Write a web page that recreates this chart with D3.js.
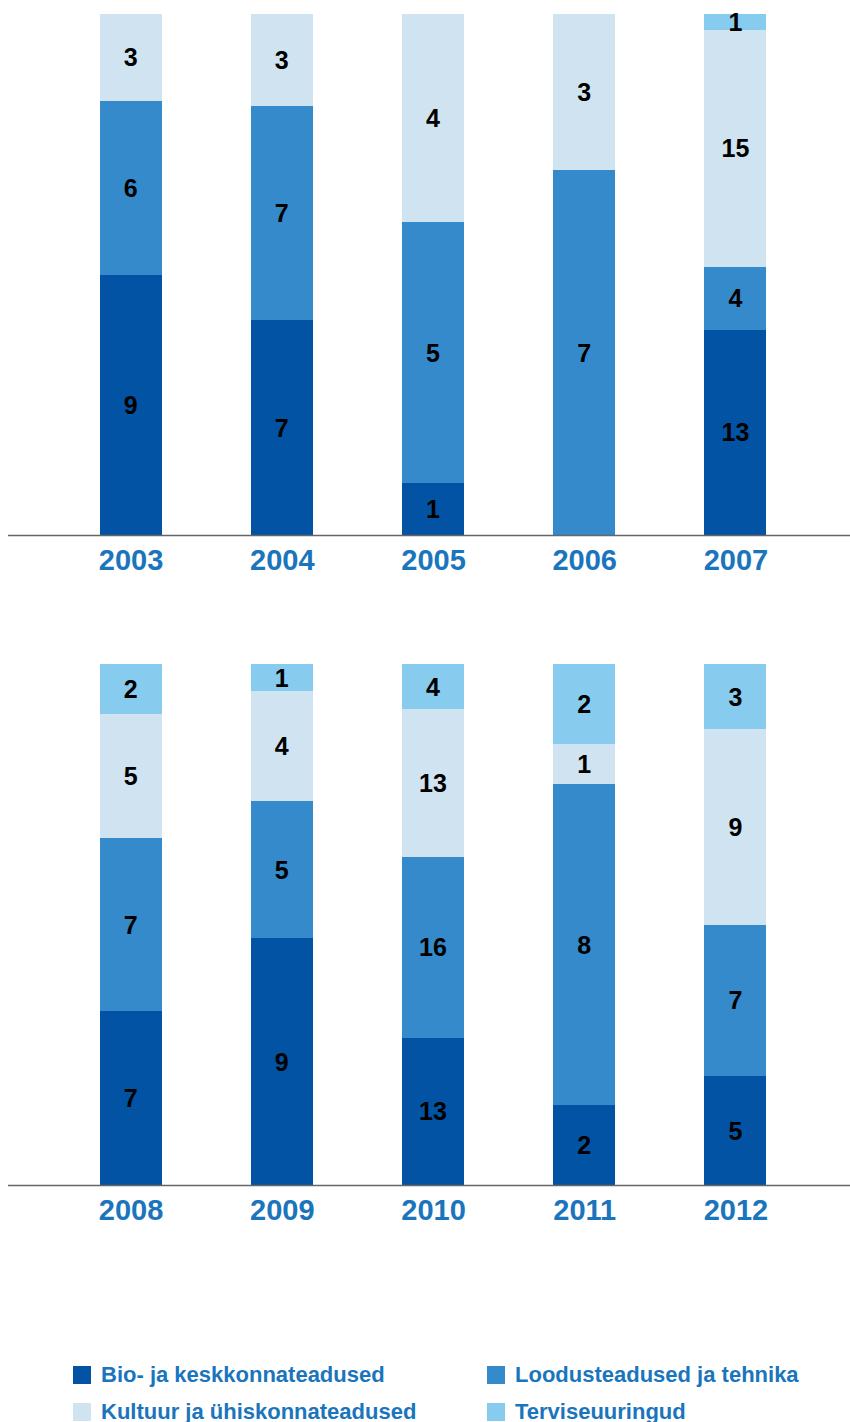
<!DOCTYPE html>
<html lang="et">
	<head>
		<meta charset="utf-8">
		<title>Stacked bars</title>
		<script src="https://d3js.org/d3.v7.min.js"></script>
		<style>
			body { margin: 0; background: #fff; }
			text { font-family: "Liberation Sans", Arial, Helvetica, sans-serif; font-weight: bold; }
		</style>
	</head>
	<body>
		<div id="chart"></div>
		<script type="text/javascript">
		var w = 850
		var h = 1422

		// data
		var keys = ['bio', 'loodus', 'kultuur', 'tervis']
		var legendLabels = ['Bio- ja keskkonnateadused', 'Loodusteadused ja tehnika', 'Kultuur ja ühiskonnateadused', 'Terviseuuringud']
		var colorList = ['#0353a4', '#348acb', '#d0e3f1', '#87cbee']

		var years1 = ['2003', '2004', '2005', '2006', '2007']
		var bio1 = [9, 7, 1, 0, 13]
		var loodus1 = [6, 7, 5, 7, 4]
		var kultuur1 = [3, 3, 4, 3, 15]
		var tervis1 = [0, 0, 0, 0, 1]

		var years2 = ['2008', '2009', '2010', '2011', '2012']
		var bio2 = [7, 9, 13, 2, 5]
		var loodus2 = [7, 5, 16, 8, 7]
		var kultuur2 = [5, 4, 13, 1, 9]
		var tervis2 = [2, 1, 4, 2, 3]

		function buildRows(years, a, b, c, d) {
			return years.map((y, i) => ({year: y, bio: a[i], loodus: b[i], kultuur: c[i], tervis: d[i]}))
		}

		var panels = [
			{rows: buildRows(years1, bio1, loodus1, kultuur1, tervis1), top: 14, base: 535},
			{rows: buildRows(years2, bio2, loodus2, kultuur2, tervis2), top: 664, base: 1185}
		]

		var svg = d3.select('#chart').append('svg').attr('width', w).attr('height', h)

		var stack = d3.stack().keys(keys).offset(d3.stackOffsetExpand)
		var barWidth = 62

		panels.forEach(function(p) {
			var xScale = d3.scalePoint().domain(p.rows.map(d => d.year)).range([55, 811]).padding(0.5)
			var yScale = d3.scaleLinear().domain([0, 1]).range([p.base, p.top])
			var series = stack(p.rows)

			var g = svg.append('g')

			var groups = g.selectAll('.group').data(series).enter()
				.append('g').attr('class', 'group')
				.attr('fill', (d, i) => colorList[i])

			groups.selectAll('rect').data(d => d).enter()
				.append('rect')
				.attr('shape-rendering', 'crispEdges')
				.attr('x', d => xScale(d.data.year) - barWidth / 2)
				.attr('y', d => yScale(d[1]))
				.attr('width', barWidth)
				.attr('height', d => yScale(d[0]) - yScale(d[1]))

			// value labels, only for non-empty segments
			series.forEach(function(s) {
				g.selectAll(null).data(s.filter(d => d.data[s.key] > 0)).enter()
					.append('text')
					.attr('x', d => xScale(d.data.year))
					.attr('y', d => (yScale(d[0]) + yScale(d[1])) / 2)
					.attr('dy', '0.36em')
					.attr('text-anchor', 'middle')
					.attr('font-size', 25)
					.attr('fill', '#000')
					.text(d => d.data[s.key])
			})

			// baseline + year labels
			var xAxis = d3.axisBottom(xScale).tickSize(0).tickPadding(14)
			var ax = g.append('g').attr('transform', 'translate(0,' + p.base + ')').call(xAxis)
			ax.select('.domain').attr('d', 'M8,0.5H850').attr('stroke', '#666').attr('stroke-width', 1.5)
			ax.selectAll('text').attr('font-size', 29).attr('fill', '#1a75bc').attr('dy', '0.71em')
				.style('font-family', '"Liberation Sans", Arial, sans-serif').style('font-weight', 'bold')
		})

		// legend
		var legend = svg.append('g')
		var legendPos = [[73, 1366], [487, 1366], [73, 1403], [487, 1403]]
		legendLabels.forEach(function(label, i) {
			var item = legend.append('g').attr('transform', 'translate(' + legendPos[i][0] + ',' + legendPos[i][1] + ')')
			item.append('rect').attr('width', 18).attr('height', 18).attr('fill', colorList[i])
			item.append('text').attr('x', 28).attr('y', 16).attr('font-size', 22).attr('fill', '#1a75bc').text(label)
		})
		</script>
	</body>
</html>
